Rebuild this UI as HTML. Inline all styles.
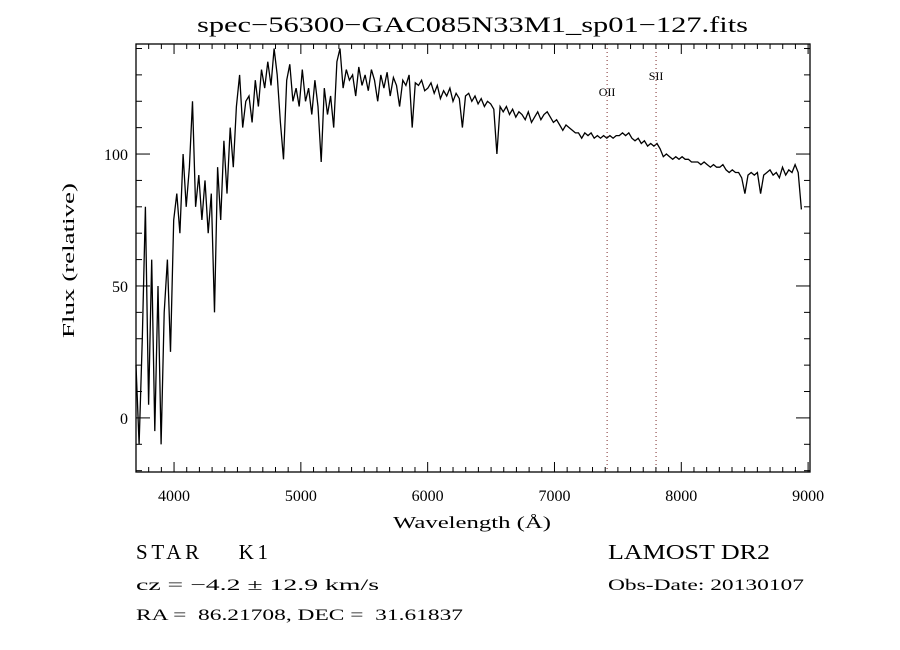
<!DOCTYPE html>
<html><head><meta charset="utf-8"><style>
html,body{margin:0;padding:0;background:#fff}
svg{display:block}
text{font-family:"Liberation Serif",serif;fill:#000;white-space:pre}
</style></head><body>
<svg id="chart" width="900" height="650" viewBox="0 0 900 650" xmlns="http://www.w3.org/2000/svg">
<rect width="900" height="650" fill="#fff"/>
<text x="197" y="32" font-size="22" textLength="551" lengthAdjust="spacingAndGlyphs">spec−56300−GAC085N33M1_sp01−127.fits</text>
<g id="plot"></g>
<text x="393" y="528" font-size="17" textLength="158" lengthAdjust="spacingAndGlyphs">Wavelength (Å)</text>
<text transform="translate(74,338) rotate(-90)" font-size="17" textLength="155" lengthAdjust="spacingAndGlyphs">Flux (relative)</text>
<text x="136" y="559" font-size="21" textLength="132" lengthAdjust="spacing">STAR    K1</text>
<text x="608" y="559" font-size="21" textLength="162" lengthAdjust="spacingAndGlyphs">LAMOST DR2</text>
<text x="136" y="590" font-size="16" textLength="243" lengthAdjust="spacingAndGlyphs">cz = −4.2 ± 12.9 km/s</text>
<text x="608" y="590" font-size="16" textLength="196" lengthAdjust="spacingAndGlyphs">Obs-Date: 20130107</text>
<text x="136" y="620" font-size="16" textLength="327" lengthAdjust="spacingAndGlyphs">RA =  86.21708, DEC =  31.61837</text>
</svg>
<script>
const waveStart = 3700;
const waveStep = 24.75;
const flux = [20,-10,30,80,5,60,-5,50,-10,40,60,25,75,
85,70,100,80,95,120,80,92,75,90,70,85,40,95,75,105,85,110,95,118,
130,110,120,122,112,128,118,132,125,135,126,140,130,112,98,128,134,120,125,118,
132,120,125,115,128,118,97,125,115,122,110,135,140,125,132,128,130,122,133,126,
130,124,132,128,120,130,125,131,122,129,126,118,128,126,130,110,127,126,128,124,
125,127,123,126,121,124,122,125,120,123,121,110,122,123,120,122,119,121,118,120,
119,117,100,118,116,118,115,117,114,116,115,113,116,112,114,116,113,115,116,114,
112,113,111,109,111,110,109,108,108,106,108,107,108,106,107,106,107,106,107,106,
107,107,108,107,108,106,105,106,104,105,103,104,103,104,102,99,100,99,98,99,
98,99,98,98,97,97,97,96,97,96,95,96,95,95,96,94,93,94,93,93,
91,85,92,93,92,93,85,92,93,94,92,93,91,95,92,94,93,96,93,79];
const xTicks = [4000,5000,6000,7000,8000,9000];
const yTicks = [0,50,100];
const lineNames = ["OII","SII"];
const lineWaves = [7415,7801];
const lineLabelFlux = [122,128];

const L=136,R=810,T=44,B=472, xMin=3700, xMax=9015, yMin=-20.5, yMax=141.7;
const X = w => L + (w - xMin) / (xMax - xMin) * (R - L);
const Y = f => B - (f - yMin) / (yMax - yMin) * (B - T);
const NS="http://www.w3.org/2000/svg";
const g=document.getElementById('plot');
function mk(tag, attrs){const e=document.createElementNS(NS,tag);for(const k in attrs)e.setAttribute(k,attrs[k]);g.appendChild(e);return e;}

let d='';
flux.forEach((f,i)=>{const w=waveStart+i*waveStep;d+=(i?'L':'M')+X(w).toFixed(1)+','+Y(f).toFixed(1);});
const sp=mk('path',{d:d,fill:'none',stroke:'#000','stroke-width':1.3});



lineWaves.forEach((w,i)=>{
  const ln=mk('line',{x1:X(w),x2:X(w),y1:T,y2:B,stroke:'#7a2a2a','stroke-width':1,'stroke-dasharray':'1,3'});
  
  
  const t=mk('text',{x:X(w),y:Y(lineLabelFlux[i]),'font-size':12,'text-anchor':'middle'});
  t.textContent=lineNames[i];
  
  
});

const fr=mk('rect',{x:L,y:T,width:R-L,height:B-T,fill:'none',stroke:'#000','stroke-width':1.3});



for(let w=3700; w<=9000; w+=100){
  const major = w%1000===0; const len = major?10:5;
  mk('line',{x1:X(w),x2:X(w),y1:B,y2:B-len,stroke:'#000','stroke-width':1});
  mk('line',{x1:X(w),x2:X(w),y1:T,y2:T+len,stroke:'#000','stroke-width':1});
}
xTicks.forEach(v=>{
  const t=mk('text',{x:X(v),y:B+29,'font-size':16,'text-anchor':'middle','font-family':'Liberation Sans, sans-serif'});
  t.textContent=v;
  
  
});
for(let f=-20; f<=140; f+=10){
  const major = f%50===0; const len = major?14:6;
  mk('line',{x1:L,x2:L+len,y1:Y(f),y2:Y(f),stroke:'#000','stroke-width':1});
  mk('line',{x1:R,x2:R-len,y1:Y(f),y2:Y(f),stroke:'#000','stroke-width':1});
}
yTicks.forEach(v=>{
  const t=mk('text',{x:L-8,y:Y(v)+6,'font-size':16,'text-anchor':'end','font-family':'Liberation Sans, sans-serif'});
  t.textContent=v;
  
  
});
</script>
</body></html>
